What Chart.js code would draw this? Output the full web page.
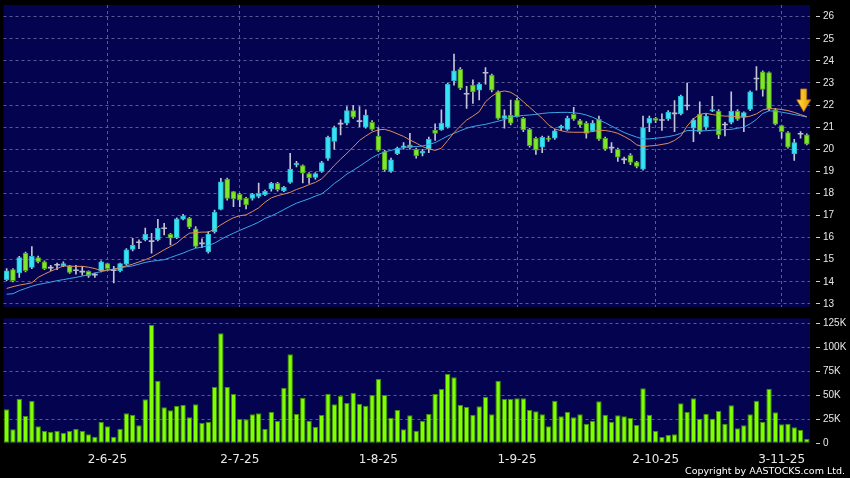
<!DOCTYPE html>
<html><head><meta charset="utf-8">
<script src="https://cdn.jsdelivr.net/npm/chart.js@4/dist/chart.umd.min.js"></script>
<style>
html,body{margin:0;padding:0;background:#000;width:850px;height:478px;overflow:hidden}
#main{position:absolute;left:0;top:0}
#vol{position:absolute;left:0;top:312px}
#copy{position:absolute;right:5px;top:465px;color:#fff;font:9.5px 'DejaVu Sans',sans-serif;white-space:nowrap}
</style></head><body>
<canvas id="main" width="850" height="312"></canvas>
<canvas id="vol" width="850" height="166"></canvas>
<div id="copy">Copyright by AASTOCKS.com Ltd.</div>
<script>
// ---- data ----
const opens = [14.1,14.55,14.4,15.3,14.65,15.1,14.9,14.62,14.75,14.72,14.72,14.5,14.44,14.47,14.3,14.5,14.82,14.5,14.5,14.8,
15.47,15.77,15.9,15.82,15.9,16.4,16.15,16.0,16.83,16.88,16.4,15.72,15.35,16.27,17.28,18.65,18.08,17.96,17.78,17.78,
17.86,17.95,18.2,18.46,18.13,18.5,19.3,19.26,18.9,18.73,19.0,19.58,20.36,21.14,21.18,21.75,21.25,21.0,21.22,20.6,
19.9,19.0,19.8,20.08,20.2,20.0,19.82,20.0,20.87,20.87,21.0,23.1,23.62,22.49,22.9,22.68,23.44,23.36,22.6,21.4,
21.55,22.23,21.4,20.9,20.5,20.09,20.48,20.5,20.95,20.9,21.58,21.3,21.18,20.83,21.36,20.5,20.05,20.0,19.52,19.72,
19.42,19.1,21.18,21.4,21.3,21.37,21.6,21.6,21.96,20.95,21.58,21.0,21.73,21.73,21.1,21.22,21.73,21.45,21.8,23.18,
23.51,23.47,21.78,21.07,20.75,19.79,20.68,20.65];
const highs = [14.6,14.6,15.15,15.35,15.6,15.17,14.95,14.75,14.85,14.9,14.75,14.75,14.7,14.5,14.4,14.95,14.85,14.7,14.85,15.5,
15.97,15.9,16.43,16.2,16.83,16.65,16.2,16.9,17.05,16.92,16.5,15.95,16.27,17.25,18.68,18.7,18.1,18.0,17.82,18.0,
18.47,18.15,18.5,18.5,18.32,19.82,19.45,19.3,18.95,18.95,19.45,20.6,21.05,21.33,21.93,21.98,21.93,21.78,21.3,20.98,
19.95,19.6,20.1,20.3,20.72,20.05,20.0,20.55,21.15,21.78,23.0,24.31,23.7,22.85,23.14,23.0,23.7,23.4,22.65,21.78,
22.23,22.3,21.45,20.95,20.55,20.6,20.6,20.9,21.1,21.5,21.9,21.35,21.25,21.3,21.5,20.55,20.3,20.05,19.65,19.8,
19.45,21.5,21.5,21.45,21.6,21.75,22.2,22.45,23.0,21.4,22.15,21.6,22.4,21.8,21.22,22.6,21.8,21.7,22.65,23.74,
23.55,23.5,21.85,21.1,20.8,20.45,20.8,20.7];
const lows = [14.05,14.0,14.2,14.45,14.6,14.85,14.55,14.5,14.55,14.68,14.38,14.35,14.3,14.2,14.2,14.45,14.55,13.95,14.45,14.75,
15.4,15.5,15.85,15.3,15.85,16.12,15.67,15.95,16.8,16.4,15.55,15.55,15.3,16.2,17.25,17.7,17.4,17.4,17.3,17.7,
17.8,17.9,18.1,18.1,18.08,18.45,19.2,18.48,18.45,18.65,18.95,19.5,20.0,20.65,21.1,21.4,21.02,20.95,20.85,19.9,
19.0,18.95,19.75,20.0,20.0,19.6,19.7,19.85,20.4,20.85,20.95,22.9,22.7,21.85,22.08,22.23,22.95,22.6,21.35,20.95,
21.1,21.45,20.8,20.1,19.77,19.85,20.35,20.45,20.85,20.85,21.3,21.0,20.5,20.8,20.4,19.95,19.85,19.45,19.35,19.3,
19.15,19.05,20.8,21.2,20.85,21.3,20.8,21.55,21.78,20.34,20.7,20.9,21.7,20.48,20.6,21.15,21.3,20.8,21.75,22.68,
22.4,21.75,21.1,20.5,20.05,19.5,20.5,20.2];
const closes = [14.5,14.05,15.1,14.5,15.15,14.9,14.6,14.62,14.75,14.82,14.42,14.5,14.44,14.27,14.3,14.9,14.6,14.5,14.83,15.45,
15.65,15.77,16.15,15.82,16.43,16.4,15.97,16.85,16.98,16.47,15.6,15.72,16.15,17.15,18.53,17.78,17.75,17.7,17.48,17.96,
18.0,18.1,18.46,18.17,18.28,19.1,19.36,18.92,18.7,18.9,19.4,20.55,20.98,21.14,21.75,21.45,21.25,21.55,20.9,19.95,
19.06,19.52,20.05,20.16,20.07,19.7,19.92,20.45,20.72,21.18,22.94,23.55,22.76,22.49,22.6,22.95,23.44,22.68,21.4,21.52,
21.18,21.48,20.87,20.16,19.96,20.54,20.45,20.83,21.05,21.4,21.36,21.1,20.72,21.18,20.46,20.0,20.05,19.64,19.52,19.4,
19.22,20.98,21.4,21.3,21.3,21.68,21.6,22.41,21.96,21.33,20.8,21.5,21.8,20.65,21.1,21.73,21.36,21.66,22.6,23.18,
22.71,21.81,21.14,20.8,20.09,20.3,20.68,20.23];
const maShort = [13.7,13.78,13.85,13.9,13.96,14.2,14.35,14.48,14.6,14.72,14.71,14.7,14.7,14.66,14.6,14.51,14.53,14.56,14.65,14.72,
14.8,14.9,15.0,15.12,15.28,15.45,15.6,15.75,16.0,16.2,16.23,16.25,16.25,16.38,16.58,16.75,16.9,16.99,17.03,17.18,
17.35,17.6,17.8,17.9,17.97,18.05,18.18,18.28,18.4,18.5,18.66,18.95,19.27,19.55,19.82,20.1,20.4,20.6,20.78,20.88,
20.9,20.82,20.7,20.58,20.42,20.28,20.12,20.02,19.95,20.05,20.4,20.75,21.05,21.32,21.5,21.7,22.15,22.4,22.58,22.64,
22.58,22.4,22.15,21.9,21.65,21.4,21.1,20.92,20.84,20.78,20.77,20.77,20.77,20.8,20.86,20.85,20.8,20.72,20.58,20.42,
20.2,20.12,20.15,20.17,20.22,20.27,20.4,20.6,21.05,21.38,21.58,21.63,21.57,21.53,21.5,21.5,21.47,21.45,21.5,21.6,
21.78,21.84,21.83,21.8,21.75,21.67,21.57,21.47];
const maLong = [13.44,13.46,13.6,13.7,13.8,13.88,13.93,13.99,14.05,14.1,14.15,14.2,14.26,14.32,14.4,14.46,14.52,14.58,14.63,14.68,
14.72,14.8,14.88,14.93,14.97,15.0,15.1,15.2,15.3,15.42,15.52,15.57,15.64,15.75,15.92,16.07,16.2,16.33,16.45,16.57,
16.7,16.87,16.98,17.12,17.27,17.42,17.56,17.66,17.76,17.88,17.98,18.2,18.45,18.65,18.88,19.05,19.23,19.42,19.62,19.77,
19.88,19.95,20.02,20.07,20.12,20.12,20.15,20.22,20.3,20.45,20.6,20.72,20.84,20.95,21.03,21.08,21.13,21.2,21.27,21.35,
21.45,21.5,21.53,21.55,21.58,21.62,21.65,21.66,21.67,21.67,21.65,21.62,21.55,21.45,21.32,21.2,21.05,20.9,20.76,20.65,
20.55,20.47,20.47,20.5,20.53,20.57,20.63,20.72,20.85,20.85,20.83,20.84,20.86,20.87,20.89,20.9,20.95,21.0,21.15,21.35,
21.62,21.74,21.72,21.68,21.63,21.57,21.52,21.46];
const volumeK = [35.4,14.6,46.5,28.4,44,17.7,12.8,12.1,12.8,11.1,12.8,14.9,12.8,9.4,6.9,22.2,17.7,6.9,15.2,31.2,
29.8,18.7,45.8,123.2,65.2,37.5,34.4,39.2,39.9,27.1,40.6,21.1,22.5,58.6,114.6,58.6,51.4,25.3,25.0,30.2,
31.2,14.9,32.6,23.2,57.9,92.7,30.5,47.5,23.5,17.0,29.5,51.7,40.6,49.3,42.0,52.7,41.3,39.2,50.3,67,
50.3,26.7,34.7,14.6,29.2,13.1,23.5,30.5,51.4,56.6,72.2,68.7,39.9,37.8,29.8,38.5,48.2,30.2,65.2,46.1,
46.1,46.8,46.8,34.7,33.3,30.2,17.7,44.4,28.1,32.9,27.1,30.2,20.4,23.5,43.7,29.8,22.5,29.2,28.1,26.4,
19.1,57.3,29.8,12.8,6.6,8.6,9.4,41.7,32.6,46.8,25.6,30.8,25.6,33.6,20.4,39.6,15.6,18.7,30.2,44.4,
22.5,56.9,32.3,19.8,20.4,16.7,14.2,4.8];
const tickLabels = ['2-6-25','2-7-25','1-8-25','1-9-25','2-10-25','3-11-25'];
const tickBars = [16,37,59,81,103,123];
const priceTicks = [13,14,15,16,17,18,19,20,21,22,23,24,25,26];
const volumeTicks = [0,25,50,75,100,125];
const arrowMark = {bar: 126.5, top: 22.73, tip: 21.7};

// ---- build ----
const n = closes.length;
const categories = Array.from({length: n}, (_, i) => {
  const k = tickBars.indexOf(i); return k >= 0 ? tickLabels[k] : '';
});
const bodies = opens.map((o, i) => [o, closes[i]]);
const wicks = lows.map((l, i) => [l, highs[i]]);
const UP = '#37e3f3', UPB = '#25b7cf', DN = '#7fe62b', DNB = '#4b9a16', DOJI = '#b9b9cf';
const bodyFill = opens.map((o, i) => closes[i] > o ? UP : closes[i] < o ? DN : DOJI);
const bodyLine = opens.map((o, i) => closes[i] > o ? UPB : closes[i] < o ? DNB : DOJI);
const bodyBW = opens.map((o, i) => closes[i] === o ? 0 : 1);
const NAVY = '#03034f', GRID = '#5a5a92', TXT = '#e8e8e8';
const FONT = "'DejaVu Sans', sans-serif";
const AXFONT = "'Liberation Sans', Arial, sans-serif";

const panelBg = {
  id: 'panelBg',
  beforeDraw(chart) {
    const a = chart.chartArea, c = chart.ctx;
    c.save(); c.fillStyle = NAVY; c.fillRect(a.left, a.top, a.right - a.left, a.bottom - a.top); c.restore();
  }
};
const arrowPlugin = {
  id: 'arrowMark',
  afterDatasetsDraw(chart) {
    const x = chart.scales.x.getPixelForValue(arrowMark.bar);
    const yt = chart.scales.y.getPixelForValue(arrowMark.top);
    const yb = chart.scales.y.getPixelForValue(arrowMark.tip);
    const h = yb - yt, ym = yt + h * 0.48;
    const c = chart.ctx;
    c.save();
    const g = c.createLinearGradient(x - 7, 0, x + 7, 0);
    g.addColorStop(0, '#ffe14a'); g.addColorStop(1, '#e89a00');
    c.beginPath();
    c.moveTo(x - 3, yt); c.lineTo(x + 3, yt); c.lineTo(x + 3, ym); c.lineTo(x + 7, ym);
    c.lineTo(x, yb); c.lineTo(x - 7, ym); c.lineTo(x - 3, ym); c.closePath();
    c.fillStyle = g; c.fill();
    c.strokeStyle = '#b56d00'; c.lineWidth = 0.8; c.stroke();
    c.restore();
  }
};
const showAt = i => tickBars.includes(i);

new Chart(document.getElementById('main'), {
  type: 'bar',
  data: {
    labels: categories,
    datasets: [
      {type: 'line', data: maShort, borderColor: '#dc8d5e', borderWidth: 1, pointRadius: 0, tension: 0, order: 0},
      {type: 'line', data: maLong, borderColor: '#3ea6e6', borderWidth: 1, pointRadius: 0, tension: 0, order: 0},
      {data: bodies, backgroundColor: bodyFill, borderColor: bodyLine, borderWidth: bodyBW, borderSkipped: false,
       barThickness: 5, minBarLength: 1, grouped: false, order: 1},
      {data: wicks, backgroundColor: '#c4c4d6', borderWidth: 0, barThickness: 1, grouped: false, order: 2}
    ]
  },
  options: {
    responsive: false, animation: false, events: [],
    layout: {padding: {left: 3.5, top: 5, bottom: 5, right: 0}},
    plugins: {legend: {display: false}, tooltip: {enabled: false}},
    scales: {
      x: {
        offset: true,
        grid: {offset: false, color: c => showAt(c.index) ? GRID : 'rgba(0,0,0,0)', drawTicks: false},
        border: {display: false, dash: [3, 3]},
        ticks: {display: false, autoSkip: false},
        afterFit: s => { s.height = 0; }
      },
      y: {
        position: 'right', min: 12.86, max: 26.53,
        afterBuildTicks: s => { s.ticks = priceTicks.map(v => ({value: v})); },
        grid: {color: GRID, tickLength: 10, tickColor: '#cfcfcf', tickBorderDash: [0, 6, 4, 20]},
        border: {display: false, dash: [3, 3]},
        ticks: {color: TXT, font: {family: AXFONT, size: 10}, padding: 3, callback: v => String(v)},
        afterFit: s => { s.width = 40; s.paddingTop = 0; s.paddingBottom = 0; }
      }
    }
  },
  plugins: [panelBg, arrowPlugin]
});

new Chart(document.getElementById('vol'), {
  type: 'bar',
  data: {
    labels: categories,
    datasets: [{data: volumeK, backgroundColor: '#80ff00', borderColor: '#3f8f00', borderWidth: 1,
      borderSkipped: false, barPercentage: 0.86, categoryPercentage: 1}]
  },
  options: {
    responsive: false, animation: false, events: [],
    layout: {padding: {left: 3.5, top: 6.3, bottom: 0, right: 0}},
    plugins: {legend: {display: false}, tooltip: {enabled: false}},
    scales: {
      x: {
        offset: true,
        grid: {offset: false, color: c => showAt(c.index) ? GRID : 'rgba(0,0,0,0)',
               tickColor: c => showAt(c.index) ? '#cfcfcf' : 'rgba(0,0,0,0)',
               tickLength: 6, tickBorderDash: [0, 3, 3, 20]},
        border: {display: false, dash: [3, 3]},
        ticks: {autoSkip: false, maxRotation: 0, minRotation: 0, color: TXT, font: {family: FONT, size: 12}, padding: 3,
                callback: (v, i) => categories[i] === '' ? null : categories[i]},
        afterFit: s => { s.height = 34.7; }
      },
      y: {
        position: 'right', min: 0, max: 130.2,
        afterBuildTicks: s => { s.ticks = volumeTicks.map(v => ({value: v})); },
        grid: {color: c => c.tick && c.tick.value === 0 ? 'rgba(0,0,0,0)' : GRID, tickLength: 10, tickColor: '#cfcfcf', tickBorderDash: [0, 6, 4, 20]},
        border: {display: false, dash: [3, 3]},
        ticks: {color: TXT, font: {family: AXFONT, size: 10}, padding: 3, callback: v => v === 0 ? '0' : v + 'K'},
        afterFit: s => { s.width = 40; s.paddingTop = 0; s.paddingBottom = 0; }
      }
    }
  },
  plugins: [panelBg]
});
</script>
</body></html>
